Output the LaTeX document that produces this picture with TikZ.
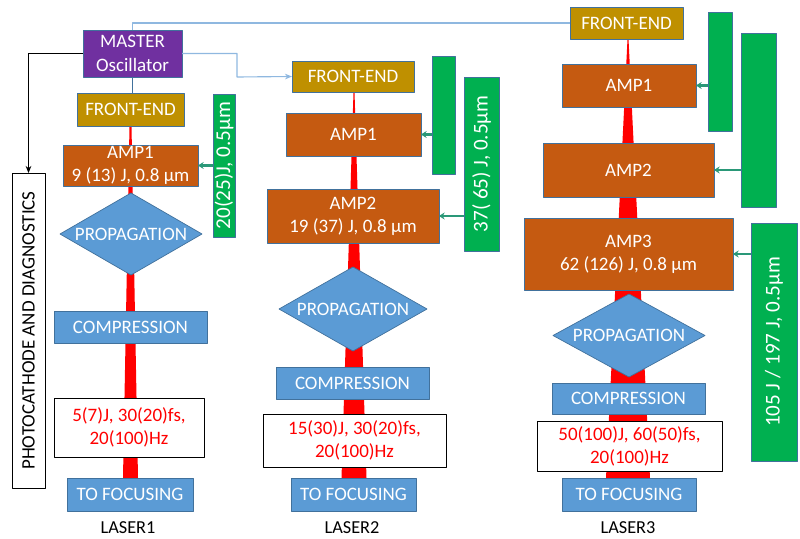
\documentclass[tikz,border=0pt]{standalone}
\usepackage{fontspec}
\usepackage{graphicx}
\setmainfont{Carlito}
\usetikzlibrary{shapes.geometric,arrows.meta}
\definecolor{mastercol}{HTML}{7030A0}
\definecolor{fecol}{HTML}{BF9000}
\definecolor{ampcol}{HTML}{C55A11}
\definecolor{pumpcol}{HTML}{00B050}
\definecolor{opticcol}{HTML}{5B9BD5}
\definecolor{edgecol}{HTML}{41719C}
\definecolor{feedcol}{HTML}{8FB8E0}
\definecolor{pumparrowcol}{HTML}{2A9878}
\begin{document}
\begin{tikzpicture}[x=0.025cm,y=-0.025cm,line join=round,>=Stealth,
  sz/.style 2 args={minimum width=#1*0.025cm,minimum height=#2*0.025cm},
  blk/.style={draw=edgecol,line width=.5pt,inner sep=0pt,outer sep=0pt,text=white,align=center,font=\fontsize{13.5}{16.5}\selectfont},
  master/.style={blk,fill=mastercol},
  fe/.style={blk,fill=fecol},
  amp/.style={blk,fill=ampcol},
  pump/.style={blk,fill=pumpcol,font=\fontsize{15}{18}\selectfont},
  optic/.style={blk,fill=opticcol},
  prop/.style={optic,diamond},
  result/.style={blk,draw=black,fill=white,text=red},
  lasername/.style={inner sep=0pt,font=\fontsize{13}{16}\selectfont},
  beam/.style={fill=red},
  feed/.style={draw=feedcol,line width=.8pt},
  pumparrow/.style={draw=pumparrowcol,line width=1.6pt,-{Stealth[length=4pt,width=5pt]}}]
\useasboundingbox (0,0) rectangle (800,538);

% beams
\fill[beam] (129.5,126) -- (131.5,126) -- (138,478) -- (123,478) -- cycle;
\fill[beam] (353.5,92) -- (354.5,92) -- (366.5,478) -- (341.5,478) -- cycle;
\fill[beam] (627.5,39) -- (628.5,39) -- (650,478) -- (606,478) -- cycle;

\node[master,sz={99}{47}] (master) at (132.5,53.5) {MASTER\\Oscillator};
\node[blk,draw=black,fill=white,text=black,sz={33}{315}] (photo) at (28.5,330.5) {\rotatebox{90}{PHOTOCATHODE AND DIAGNOSTICS}};

% laser 1
\node[fe,sz={107}{33}] (fe1) at (130.5,109.5) {FRONT-END};
\node[amp,sz={135}{41}] (amp11) at (130.5,165.5) {AMP1\\9 (13) J, 0.8 µm};
\node[pump,sz={22}{143}] (pump1) at (224,165.5) {\rotatebox{90}{20(25)J, 0.5µm}};
\node[prop,sz={142}{82}] (prop1) at (131,234) {\makebox[0pt]{PROPAGATION}};
\node[optic,sz={153}{32}] (comp1) at (130.5,327) {COMPRESSION};
\node[result,sz={150}{59}] (res1) at (129,427.5) {5(7)J, 30(20)fs,\\20(100)Hz};
\node[optic,sz={126}{33}] (foc1) at (130,494.5) {TO FOCUSING};
\node[lasername] (laser1) at (128,528) {LASER1};

% laser 2
\node[fe,sz={122}{31}] (fe2) at (353,76.5) {FRONT-END};
\node[amp,sz={135}{43}] (amp21) at (353.5,134.5) {AMP1};
\node[pump,sz={23}{118}] (pump2a) at (443.5,115) {};
\node[pump,sz={35}{174}] (pump2b) at (481.5,164) {\rotatebox{90}{37( 65) J, 0.5µm}};
\node[amp,sz={172}{54}] (amp22) at (353,216) {AMP2\\19 (37) J, 0.8 µm};
\node[prop,sz={148}{84}] (prop2) at (353,309) {\makebox[0pt]{PROPAGATION}};
\node[optic,sz={153}{32}] (comp2) at (352.5,383) {COMPRESSION};
\node[result,sz={183}{53}] (res2) at (354.5,440.5) {15(30)J, 30(20)fs,\\20(100)Hz};
\node[optic,sz={125}{33}] (foc2) at (353.5,494.5) {TO FOCUSING};
\node[lasername] (laser2) at (352,528) {LASER2};

% laser 3
\node[fe,sz={113}{32}] (fe3) at (626.5,23) {FRONT-END};
\node[amp,sz={134}{43}] (amp31) at (629,85.5) {AMP1};
\node[pump,sz={24}{119}] (pump3a) at (720,71.5) {};
\node[pump,sz={35}{174}] (pump3b) at (758.5,120) {};
\node[amp,sz={171}{54}] (amp32) at (628.5,170) {AMP2};
\node[amp,sz={209}{72}] (amp33) at (628.5,254) {AMP3\\62 (126) J, 0.8 µm};
\node[pump,sz={46}{238}] (pump3c) at (774,342) {\rotatebox{90}{105 J / 197 J, 0.5µm}};
\node[prop,sz={152}{83}] (prop3) at (629,335.5) {\makebox[0pt]{PROPAGATION}};
\node[optic,sz={153}{31}] (comp3) at (628.5,398.5) {COMPRESSION};
\node[result,sz={185}{50}] (res3) at (629.5,446) {50(100)J, 60(50)fs,\\20(100)Hz};
\node[optic,sz={134}{33}] (foc3) at (629,494.5) {TO FOCUSING};
\node[lasername] (laser3) at (628,528) {LASER3};

% seed and pump lines
\coordinate (bend) at (237,77);
\draw[feed] (master.north) |- (fe3.west);
\draw[feed,-{Stealth[length=5pt,width=4pt]}] (master.east) -| (bend) -- (fe2.west);
\draw[edgecol,line width=.8pt] (master.south) -- (master.south |- fe1.north);
\draw[line width=.6pt,-{Stealth[length=5pt,width=4pt]}] (master.west) -| (photo.north);
\foreach \p/\a in {pump1/amp11,pump2a/amp21,pump2b/amp22,pump3a/amp31,pump3b/amp32,pump3c/amp33}
  \draw[pumparrow] (\p.west |- \a.east) -- (\a.east);
\end{tikzpicture}
\end{document}
